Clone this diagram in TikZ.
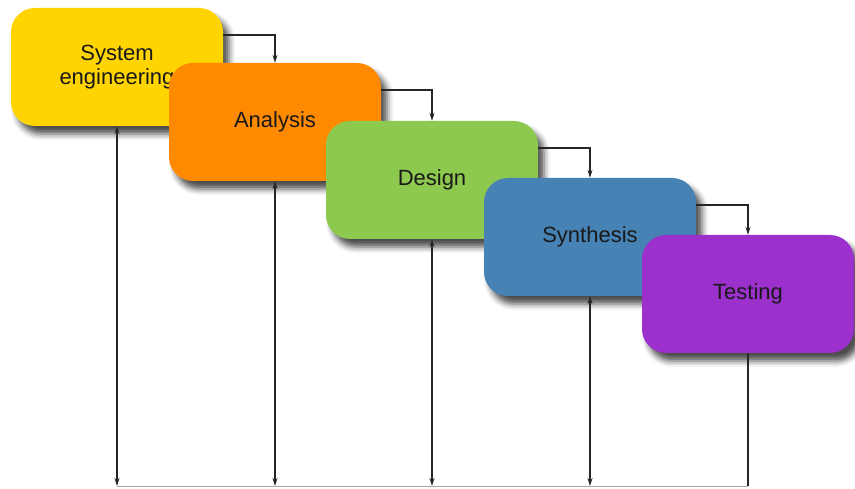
\documentclass[tikz,border=0pt]{standalone}
\usepackage{fontspec}
\setmainfont{Liberation Sans}
\usetikzlibrary{arrows.meta,shadows.blur}

\definecolor{sysyellow}{HTML}{FFD400}
\definecolor{anaorange}{HTML}{FF8A00}
\definecolor{desgreen}{HTML}{8DC94E}
\definecolor{synblue}{HTML}{4682B4}
\definecolor{tespurple}{HTML}{9B30CC}

\tikzset{
  phase/.style={rounded corners=24pt, minimum width=212pt, minimum height=118pt,
    align=center, font=\fontsize{22}{24}\selectfont, text=black!90,
    blur shadow={shadow xshift=6pt, shadow yshift=-8pt, shadow blur radius=6pt, shadow opacity=70}},
  flow/.style={draw=black!85, line width=1.1pt},
  >={Stealth[length=8pt,width=5pt]},
}

\begin{document}
\begin{tikzpicture}[x=1pt,y=1pt]
\useasboundingbox (0,0) rectangle (855,488);

\node[phase, fill=sysyellow] (sys) at (117,421) {System\\engineering};
\node[phase, fill=anaorange] (ana) at (275,366) {Analysis};
\node[phase, fill=desgreen] (des) at (432,308) {Design};
\node[phase, fill=synblue] (syn) at (590,251) {Synthesis};
\node[phase, fill=tespurple] (tes) at (748,194) {Testing};

% step down to the next phase
\draw[flow, ->] ([yshift=32pt]sys.east) -| (ana.north);
\draw[flow, ->] ([yshift=32pt]ana.east) -| (des.north);
\draw[flow, ->] ([yshift=32pt]des.east) -| (syn.north);
\draw[flow, ->] ([yshift=32pt]syn.east) -| (tes.north);

% feedback along the bottom
\coordinate (base) at (0,2);
\draw[flow, <->] (sys.south) -- (sys.south |- base);
\draw[flow, <->] (ana.south) -- (ana.south |- base);
\draw[flow, <->] (des.south) -- (des.south |- base);
\draw[flow, <->] (syn.south) -- (syn.south |- base);
\draw[flow] (tes.south) -- (tes.south |- base);
\draw[draw=black!35, line width=0.8pt] (tes.south |- base) -- (sys.south |- base);

\end{tikzpicture}
\end{document}
